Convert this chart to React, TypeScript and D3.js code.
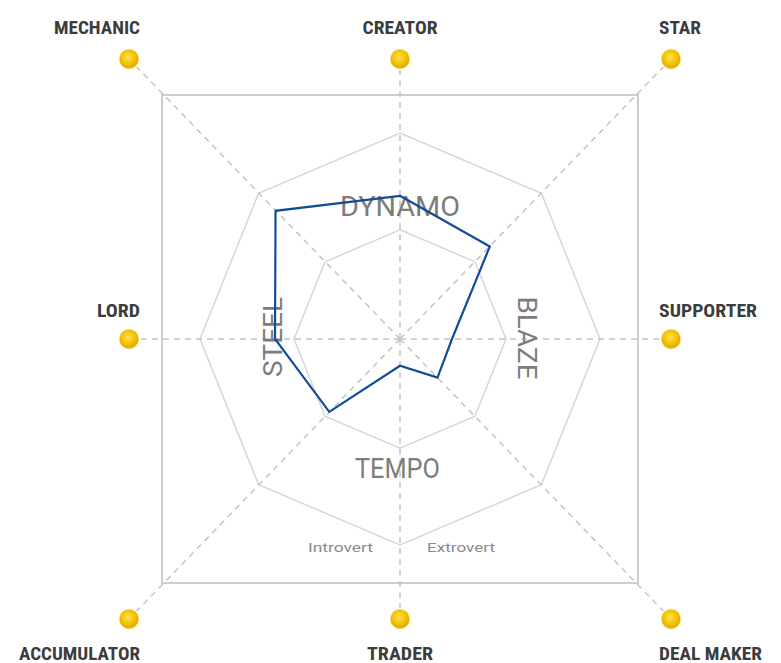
import React from "react";
import * as d3 from "d3";

const axes = ["CREATOR", "STAR", "SUPPORTER", "DEAL MAKER", "TRADER", "ACCUMULATOR", "LORD", "MECHANIC"];
const values = [69.5, 63.5, 26, 26.5, 13, 50, 62.5, 88];
const ringLevels = [53, 100];
const quadrantLabels = ["DYNAMO", "BLAZE", "TEMPO", "STEEL"];
const bottomLabels = ["Introvert", "Extrovert"];

const W = 781;
const H = 663;
const cx = 400;
const cy = 339;
const ky = 1.03;

const rScale = d3.scaleLinear().domain([0, 100]).range([0, 200]);
const angle = d3.scaleLinear().domain([0, axes.length]).range([0, 2 * Math.PI]);

function polar(i: number, v: number): [number, number] {
  const a = angle(i);
  const r = rScale(v);
  return [cx + r * Math.sin(a), cy - r * Math.cos(a) * ky];
}

function dir(i: number): [number, number] {
  const a = angle(i);
  const s = Math.sin(a);
  const c = Math.cos(a);
  return [Math.abs(s) < 1e-6 ? 0 : Math.sign(s), Math.abs(c) < 1e-6 ? 0 : -Math.sign(c)];
}

const dotDX = 271;
const dotDY = 280;
const sqDX = 238;
const sqDY = 244;

const labelWidths: Record<string, number> = {
  CREATOR: 75,
  STAR: 42,
  SUPPORTER: 98,
  "DEAL MAKER": 103,
  TRADER: 66,
  ACCUMULATOR: 121,
  LORD: 43,
  MECHANIC: 86,
};

export default function App() {
  const line = d3.line<[number, number]>().curve(d3.curveLinearClosed);
  const ringPaths = ringLevels.map((lv) => line(axes.map((_, i) => polar(i, lv))) as string);
  const dataPath = line(values.map((v, i) => polar(i, v))) as string;

  const labelFont = "'Roboto Condensed', 'Liberation Sans Narrow', Roboto, 'Liberation Sans', sans-serif";
  const innerFont = "Roboto, 'Open Sans', 'DejaVu Sans', sans-serif";

  return (
    <div style={{ position: "absolute", left: 0, top: 0 }}>
      <svg width={W} height={H} viewBox={`0 0 ${W} ${H}`} style={{ display: "block", background: "#fff" }}>
        <defs>
          <radialGradient id="gold" cx="45%" cy="40%" r="60%">
            <stop offset="0%" stopColor="#ffe45a" />
            <stop offset="55%" stopColor="#f5c400" />
            <stop offset="100%" stopColor="#e2a500" />
          </radialGradient>
        </defs>

        {/* square frame */}
        <rect x={cx - sqDX} y={cy - sqDY} width={2 * sqDX} height={2 * sqDY} fill="none" stroke="#cdcdcd" strokeWidth={2} />

        {/* rings */}
        {ringPaths.map((d, i) => (
          <path key={i} d={d} fill="none" stroke="#d8d8d8" strokeWidth={1.6} />
        ))}

        {/* dashed axes */}
        {axes.map((a, i) => {
          const [ux, uy] = dir(i);
          const len = Math.hypot(ux * dotDX, uy * dotDY);
          const f = (len - 11) / len;
          return (
            <line
              key={a}
              x1={cx}
              y1={cy}
              x2={cx + ux * dotDX * f}
              y2={cy + uy * dotDY * f}
              stroke="#c4c4c4"
              strokeWidth={1.5}
              strokeDasharray="6 5"
            />
          );
        })}

        {/* quadrant labels */}
        <text x={cx} y={216} textAnchor="middle" fontFamily={innerFont} fontSize={27} fill="#7c7c7c" textLength={120} lengthAdjust="spacingAndGlyphs">
          {quadrantLabels[0]}
        </text>
        <text transform={`translate(518,338) rotate(90)`} textAnchor="middle" fontFamily={innerFont} fontSize={26} fill="#7c7c7c" textLength={83} lengthAdjust="spacingAndGlyphs">
          {quadrantLabels[1]}
        </text>
        <text x={397.5} y={478} textAnchor="middle" fontFamily={innerFont} fontSize={27} fill="#7c7c7c" textLength={85} lengthAdjust="spacingAndGlyphs">
          {quadrantLabels[2]}
        </text>
        <text transform={`translate(282,337) rotate(-90)`} textAnchor="middle" fontFamily={innerFont} fontSize={26} fill="#7c7c7c" textLength={80} lengthAdjust="spacingAndGlyphs">
          {quadrantLabels[3]}
        </text>

        <text x={340.5} y={552} textAnchor="middle" fontFamily={innerFont} fontSize={13} fill="#8a8a8a" textLength={65} lengthAdjust="spacingAndGlyphs">
          {bottomLabels[0]}
        </text>
        <text x={461} y={552} textAnchor="middle" fontFamily={innerFont} fontSize={13} fill="#8a8a8a" textLength={68} lengthAdjust="spacingAndGlyphs">
          {bottomLabels[1]}
        </text>

        {/* data polygon */}
        <path d={dataPath} fill="none" stroke="#0f4d98" strokeWidth={2.2} strokeLinejoin="miter" />

        {/* dots and labels */}
        {axes.map((a, i) => {
          const [ux, uy] = dir(i);
          const x = cx + ux * dotDX;
          const y = cy + uy * dotDY;
          const w = labelWidths[a];
          let tx = x;
          if (ux < 0) tx = x + 11 - w / 2;
          else if (ux > 0) tx = x - 12 + w / 2;
          const ty = uy < 0 ? 34 : uy > 0 ? 659.5 : 317;
          return (
            <g key={a}>
              <circle cx={x} cy={y} r={9.5} fill="url(#gold)" stroke="#f0c000" strokeOpacity={0.35} strokeWidth={1.5} />
              <text
                x={tx}
                y={ty}
                textAnchor="middle"
                fontFamily={labelFont}
                fontWeight="bold"
                fontSize={19}
                fill="#3c3c3c"
                textLength={w}
                lengthAdjust="spacingAndGlyphs"
              >
                {a}
              </text>
            </g>
          );
        })}
      </svg>
    </div>
  );
}
